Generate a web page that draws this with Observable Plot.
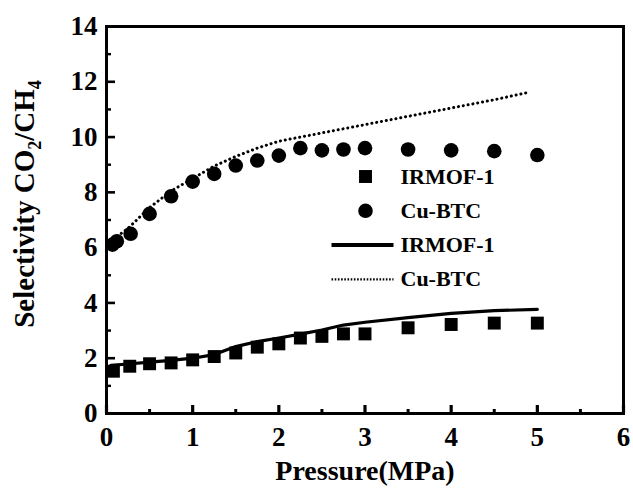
<!DOCTYPE html>
<html>
<head>
<meta charset="utf-8">
<script src="https://cdn.jsdelivr.net/npm/d3@7"></script>
<script src="https://cdn.jsdelivr.net/npm/@observablehq/plot@0.6"></script>
<style>
  html, body { margin: 0; padding: 0; background: #fff; }
</style>
</head>
<body>
<div id="chart"></div>
<script>
// Experimental selectivity points
const irmofP = [0.08, 0.27, 0.5, 0.75, 1.0, 1.25, 1.5, 1.75, 2.0, 2.25, 2.5, 2.75, 3.0, 3.5, 4.0, 4.5, 5.0];
const irmofS = [1.53, 1.71, 1.80, 1.83, 1.94, 2.06, 2.19, 2.40, 2.52, 2.73, 2.79, 2.88, 2.88, 3.10, 3.22, 3.27, 3.27];
const cubtcP = [0.07, 0.12, 0.28, 0.5, 0.75, 1.0, 1.25, 1.5, 1.75, 2.0, 2.25, 2.5, 2.75, 3.0, 3.5, 4.0, 4.5, 5.0];
const cubtcS = [6.11, 6.23, 6.50, 7.22, 7.86, 8.39, 8.67, 8.97, 9.15, 9.33, 9.60, 9.52, 9.55, 9.60, 9.55, 9.52, 9.49, 9.35];

// Simulated selectivity curves
const irmofSimP = [0.05, 0.25, 0.5, 0.75, 1.0, 1.25, 1.5, 1.75, 2.0, 2.25, 2.5, 2.75, 3.0, 3.5, 4.0, 4.5, 5.0];
const irmofSimS = [1.74, 1.79, 1.86, 1.92, 2.00, 2.13, 2.42, 2.60, 2.73, 2.87, 3.02, 3.20, 3.30, 3.47, 3.62, 3.72, 3.77];
const cubtcSimP = [0.05, 0.1, 0.25, 0.5, 0.75, 1.0, 1.25, 1.5, 1.75, 2.0, 2.25, 2.5, 2.75, 3.0, 3.5, 4.0, 4.5, 4.9];
const cubtcSimS = [6.15, 6.35, 6.70, 7.45, 8.05, 8.50, 8.95, 9.30, 9.60, 9.85, 10.00, 10.15, 10.30, 10.45, 10.75, 11.05, 11.35, 11.62];

// Axis ticks
const xTicks = [0, 1, 2, 3, 4, 5, 6];
const xMinorTicks = [0.5, 1.5, 2.5, 3.5, 4.5, 5.5];
const yTicks = [0, 2, 4, 6, 8, 10, 12, 14];
const yMinorTicks = [1, 3, 5, 7, 9, 11, 13];

// Legend entries and axis titles
const legendLabels = ["IRMOF-1", "Cu-BTC", "IRMOF-1", "Cu-BTC"];
const xTitle = "Pressure(MPa)";
const yTitle = "Selectivity CO2/CH4";

// Layout
const width = 633, height = 490;
const marginLeft = 106, marginRight = 10, marginTop = 26, marginBottom = 77;
const plotW = width - marginLeft - marginRight;
const plotH = height - marginTop - marginBottom;
const serif = "'Liberation Serif', 'Times New Roman', 'DejaVu Serif', serif";

const irmof = irmofP.map((p, i) => ({p, s: irmofS[i]}));
const cubtc = cubtcP.map((p, i) => ({p, s: cubtcS[i]}));
const irmofSim = irmofSimP.map((p, i) => ({p, s: irmofSimS[i]}));
const cubtcSim = cubtcSimP.map((p, i) => ({p, s: cubtcSimS[i]}));

// Legend placed in screen space, converted to data units with the same mapping as the plot
const xs = d3.scaleLinear([0, 6], [marginLeft, width - marginRight]);
const ys = d3.scaleLinear([0, 14], [height - marginBottom, marginTop]);
const legTop = 176, legStep = 34.3;
const legRowY = i => ys.invert(legTop + i * legStep);
const legSymX = xs.invert(365);
const legX1 = xs.invert(331), legX2 = xs.invert(393);
const legTextX = xs.invert(400);
const legend = legendLabels.map((label, i) => ({label, i}));

const dotted = {strokeDasharray: "0.1 4.8", strokeLinecap: "round", strokeWidth: 3};

const svg = Plot.plot({
  width, height, marginLeft, marginRight, marginTop, marginBottom,
  style: {fontFamily: serif, fontWeight: "bold", fontSize: "27px", background: "#fff", color: "#000"},
  x: {domain: [0, 6]},
  y: {domain: [0, 14]},
  marks: [
    // tick labels
    Plot.axisX(xTicks, {tickSize: 0, tickPadding: 13, label: null, fontSize: 27}),
    Plot.axisY(yTicks, {tickSize: 0, tickPadding: 9, label: null, fontSize: 27}),
    // inward ticks
    Plot.tickX(xTicks, {x: d => d, insetTop: plotH - 8, strokeWidth: 3.2}),
    Plot.tickX(xMinorTicks, {x: d => d, insetTop: plotH - 4, strokeWidth: 3}),
    Plot.tickY(yTicks, {y: d => d, insetRight: plotW - 9, strokeWidth: 2.6}),
    Plot.tickY(yMinorTicks, {y: d => d, insetRight: plotW - 5, strokeWidth: 2.4}),
    Plot.frame({strokeWidth: 3}),
    // simulated curves
    Plot.line(irmofSim, {x: "p", y: "s", strokeWidth: 3.2}),
    Plot.line(cubtcSim, {x: "p", y: "s", ...dotted}),
    // experimental points
    Plot.dot(irmof, {x: "p", y: "s", symbol: "square", r: 7.3, fill: "#000"}),
    Plot.dot(cubtc, {x: "p", y: "s", symbol: "circle", r: 7.3, fill: "#000"}),
    // legend
    Plot.dot(legend.filter(d => d.i === 0), {x: () => legSymX, y: d => legRowY(d.i), symbol: "square", r: 7.3, fill: "#000"}),
    Plot.dot(legend.filter(d => d.i === 1), {x: () => legSymX, y: d => legRowY(d.i), symbol: "circle", r: 7.3, fill: "#000"}),
    Plot.link(legend.filter(d => d.i === 2), {x1: () => legX1, x2: () => legX2, y1: d => legRowY(d.i), y2: d => legRowY(d.i), strokeWidth: 4}),
    Plot.link(legend.filter(d => d.i === 3), {x1: () => legX1, x2: () => legX2, y1: d => legRowY(d.i), y2: d => legRowY(d.i), strokeWidth: 2.2, strokeDasharray: "1.6 1.6"}),
    Plot.text(legend, {x: () => legTextX, y: d => legRowY(d.i), text: "label", textAnchor: "start", fontSize: 22, fill: "#000"}),
    // axis titles
    Plot.text([xTitle], {frameAnchor: "bottom", lineAnchor: "middle", dy: 58, text: d => d, fontSize: 28, fill: "#000"}),
    Plot.text([yTitle], {frameAnchor: "left", textAnchor: "middle", lineAnchor: "middle", rotate: -90, dx: -82, dy: -16, text: d => d, fontSize: 29, fill: "#000"})
  ]
});

// Subscripts in the y-axis title
const yt = Array.from(svg.querySelectorAll("text")).find(t => t.textContent === yTitle);
if (yt) {
  yt.textContent = "";
  const sel = d3.select(yt);
  sel.append("tspan").text("Selectivity CO");
  sel.append("tspan").attr("dy", 7).attr("font-size", 18).text("2");
  sel.append("tspan").attr("dy", -7).text("/CH");
  sel.append("tspan").attr("dy", 7).attr("font-size", 18).text("4");
}

document.getElementById("chart").appendChild(svg);
</script>
</body>
</html>
